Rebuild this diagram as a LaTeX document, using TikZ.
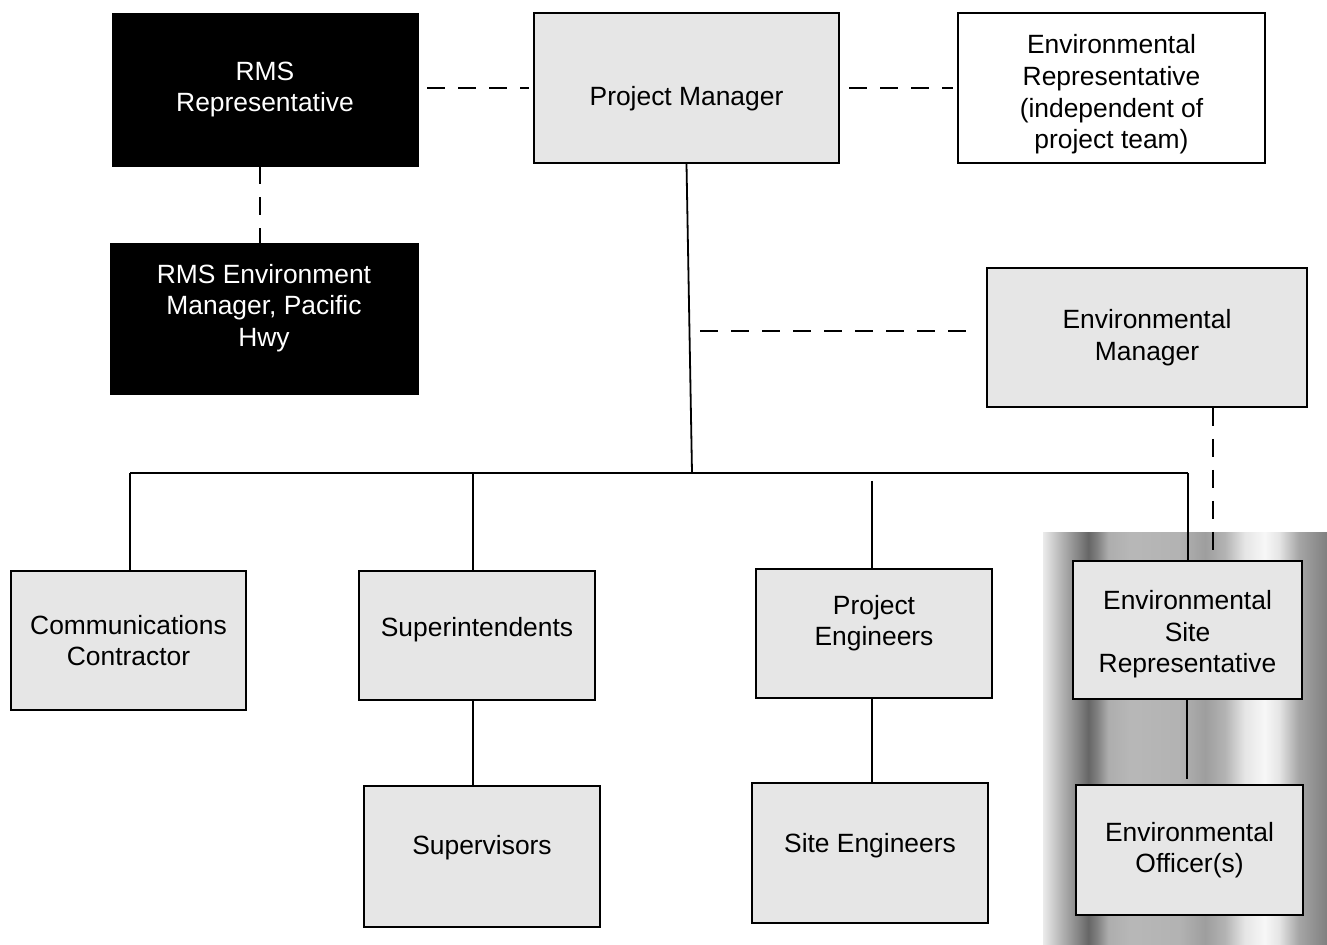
\documentclass[tikz,border=0pt]{standalone}
\usepackage{fontspec}
\setmainfont{Liberation Sans}
\usetikzlibrary{positioning}

\pgfdeclarehorizontalshading{metal}{100bp}{rgb(0bp)=(0.92,0.92,0.92); rgb(25bp)=(0.92,0.92,0.92);
  rgb(28bp)=(0.72,0.72,0.72); rgb(31.5bp)=(0.5,0.5,0.5); rgb(33bp)=(0.4,0.4,0.4);
  rgb(34.5bp)=(0.5,0.5,0.5); rgb(36.5bp)=(0.68,0.68,0.68); rgb(40.5bp)=(0.72,0.72,0.72);
  rgb(49bp)=(0.7,0.7,0.7); rgb(53.5bp)=(0.62,0.62,0.62); rgb(57bp)=(0.7,0.7,0.7);
  rgb(60.5bp)=(0.9,0.9,0.9); rgb(64bp)=(0.97,0.97,0.97); rgb(66.5bp)=(0.9,0.9,0.9);
  rgb(70bp)=(0.65,0.65,0.65); rgb(75bp)=(0.5,0.5,0.5); rgb(100bp)=(0.5,0.5,0.5)}

\definecolor{boxgray}{RGB}{230,230,230}
\newcommand{\lift}[2]{\raisebox{#1}[\height][\depth]{\begin{tabular}{@{}c@{}}#2\end{tabular}}}

\begin{document}
\begin{tikzpicture}[x=0.5pt,y=-0.5pt]
        \tikzstyle{every node}+=[font=\fontsize{13.2}{15.8}\selectfont, align=center, inner sep=0pt]
        \tikzstyle{role}=[draw, line width=1pt, fill=boxgray]
        \tikzstyle{rms}=[draw, fill=black, text=white]
        \tikzstyle{link}=[line width=0.9pt]
        \tikzstyle{dotted link}=[line width=0.9pt, dash pattern=on 9pt off 6.5pt]
        \useasboundingbox (0,0) rectangle (1327,945);
        \shade [shading=metal] (1043,533) rectangle (1327,945);
        % top row
        \node [rms, minimum width=153pt, minimum height=76.5pt] (rmsrep) at (265,89.5) {RMS\\Representative};
        \node [role, minimum width=152.5pt, minimum height=75pt] (pm) at (686.5,88) {\lift{-5.5pt}{Project Manager}};
        \node [role, fill=white, minimum width=153.5pt, minimum height=75pt] (envrep) at (1111.5,88) {\lift{-3.5pt}{Environmental\\Representative\\(independent of\\project team)}};
        \node [rms, minimum width=154pt, minimum height=75.5pt] (rmsenv) at (264,318.5) {\lift{5pt}{RMS Environment\\Manager, Pacific\\Hwy}};
        \node [role, minimum width=160pt, minimum height=69.5pt] (envmgr) at (1147,337.5) {Environmental\\Manager};
        % teams
        \node [role, minimum width=117.5pt, minimum height=69.5pt] (comms) at (128.5,640.5) {Communications\\Contractor};
        \node [role, minimum width=118pt, minimum height=64.5pt] (supt) at (477,635.5) {\lift{2.5pt}{Superintendents}};
        \node [role, minimum width=118pt, minimum height=64.5pt] (projeng) at (874,633.5) {\lift{5pt}{Project\\Engineers}};
        \node [role, minimum width=114.5pt, minimum height=69pt] (envsite) at (1187.5,630) {\lift{-2.5pt}{Environmental\\Site\\Representative}};
        \node [role, minimum width=118pt, minimum height=70.5pt] (superv) at (482,856.5) {\lift{4pt}{Supervisors}};
        \node [role, minimum width=118pt, minimum height=70pt] (siteeng) at (870,853) {\lift{3.5pt}{Site Engineers}};
        \node [role, minimum width=113.5pt, minimum height=65pt] (envoff) at (1189.5,850) {Environmental\\Officer(s)};
        \coordinate (bus) at (692,473);
        \coordinate (b1) at (130,473);
        \coordinate (b2) at (473,473);
        \coordinate (b3) at (872,481);
        \coordinate (b4) at (1188,473);
        \coordinate (tap) at (700,331);
        \coordinate (esrtap) at (1213,555);
        \coordinate (eotap) at (1187,779);
        \draw [dotted link] ([xshift=4.5pt]rmsrep.east |- pm.west) -- ([xshift=-2pt]pm.west);
        \draw [dotted link] ([xshift=4.5pt]pm.east) -- ([xshift=-2pt]envrep.west);
        \draw [dotted link] (rmsrep.south -| 260,0) -- (rmsenv.north -| 260,0);
        \draw [link] (pm.south) -- (bus);
        \draw [dotted link] (tap) -- ([xshift=-6pt]envmgr.west |- tap);
        \draw [link] (b1) -- (b4);
        \draw [link] (b1) -- (b1 |- comms.north);
        \draw [link] (b2) -- (b2 |- supt.north);
        \draw [link] (b3) -- (b3 |- projeng.north);
        \draw [link] (b4) -- (b4 |- envsite.north);
        \draw [dotted link] (envmgr.south -| esrtap) -- (esrtap);
        \draw [link] (supt.south -| b2) -- (superv.north -| b2);
        \draw [link] (projeng.south -| b3) -- (siteeng.north -| b3);
        \draw [link] (envsite.south -| eotap) -- (eotap);
\end{tikzpicture}
\end{document}
